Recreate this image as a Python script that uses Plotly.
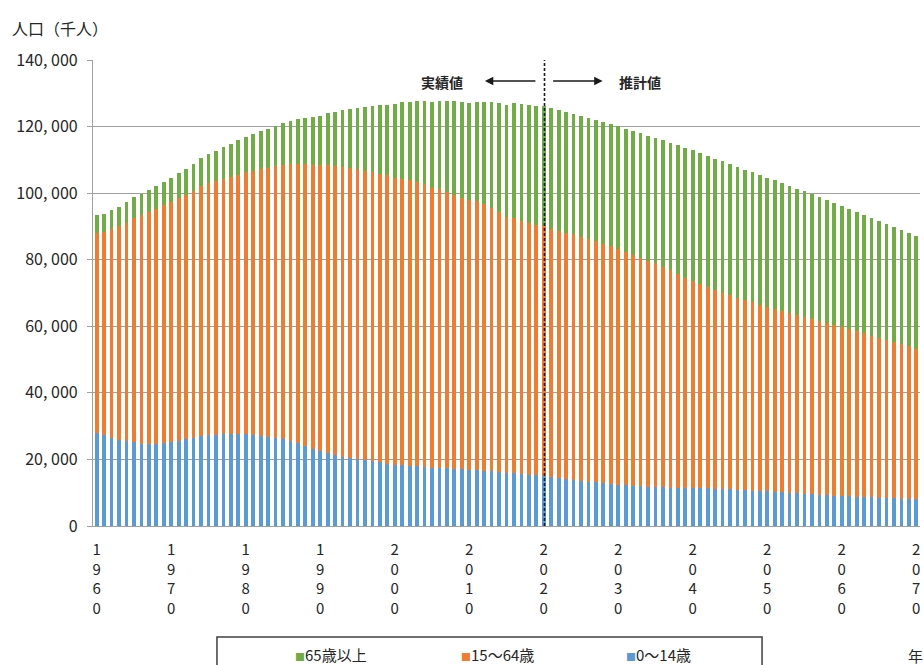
import plotly.graph_objects as go

years = list(range(1960, 2071))

# 0～14歳 (thousands)
age_0_14 = [
    28067, 27220, 26500, 25900, 25400, 25166, 24700, 24600, 24700, 24900,
    25153, 25500, 26000, 26500, 27000, 27221, 27400, 27500, 27600, 27600,
    27507, 27300, 27000, 26700, 26400, 26033, 25400, 24800, 24100, 23200,
    22486, 21900, 21400, 20800, 20400, 20014, 19700, 19400, 19100, 18700,
    18472, 18300, 18100, 17900, 17700, 17521, 17400, 17300, 17200, 17000,
    16803, 16700, 16500, 16400, 16200, 15887, 15800, 15600, 15400, 15200,
    15032, 14780, 14500, 14200, 13900, 13633, 13350, 13100, 12850, 12600,
    12397, 12200, 12050, 11920, 11800, 11691, 11620, 11560, 11510, 11460,
    11419, 11350, 11280, 11200, 11110, 11027, 10900, 10780, 10650, 10520,
    10406, 10250, 10100, 9950, 9800, 9659, 9530, 9400, 9270, 9140,
    9012, 8910, 8810, 8710, 8600, 8501, 8400, 8290, 8190, 8080,
    7975,
]

# 15～64歳 (thousands)
age_15_64 = [
    60002, 61100, 62600, 64100, 65700, 67444, 68600, 69700, 70600, 71400,
    72119, 72900, 73500, 74200, 75000, 75807, 76200, 76800, 77300, 78000,
    78835, 79500, 80200, 80900, 81700, 82506, 83400, 84100, 84700, 85400,
    85904, 86600, 86900, 87200, 87200, 87165, 87100, 86900, 86800, 86700,
    86220, 86100, 85700, 85400, 85100, 84092, 83700, 83000, 82300, 81500,
    81032, 80800, 80200, 79000, 78000, 77000, 76600, 76000, 75500, 75100,
    75088, 74510, 74160, 73970, 73700, 73101, 72800, 72420, 72000, 71420,
    70757, 70100, 69400, 68680, 67940, 67216, 66300, 65360, 64280, 63190,
    62133, 61270, 60490, 59740, 59020, 58323, 57730, 57060, 56510, 55970,
    55402, 54870, 54430, 54000, 53480, 53070, 52580, 52200, 51710, 51220,
    50781, 50210, 49670, 49150, 48630, 48093, 47570, 46950, 46410, 45890,
    45350,
]

# 65歳以上 (thousands)
age_65_plus = [
    5350, 5500, 5700, 5900, 6100, 6236, 6400, 6600, 6800, 7100,
    7393, 7600, 7900, 8200, 8500, 8865, 9200, 9600, 9900, 10300,
    10647, 11000, 11400, 11700, 12100, 12468, 12900, 13400, 13900, 14300,
    14895, 15600, 16200, 16900, 17600, 18261, 19000, 19800, 20500, 21200,
    22005, 22900, 23600, 24300, 24900, 25672, 26600, 27500, 28200, 29000,
    29246, 29800, 30800, 31900, 33000, 33465, 34600, 35200, 35600, 35900,
    36027, 36210, 36240, 36230, 36300, 36529, 36550, 36580, 36650, 36780,
    36962, 37100, 37250, 37400, 37560, 37732, 37980, 38280, 38610, 38950,
    39285, 39380, 39430, 39460, 39470, 39451, 39370, 39260, 39140, 39010,
    38878, 38680, 38470, 38250, 38020, 37779, 37490, 37200, 36920, 36640,
    36354, 36080, 35820, 35540, 35270, 34993, 34730, 34460, 34200, 33930,
    33671,
]

x_tick_vals = list(range(1960, 2071, 10))
x_tick_text = ["<br>".join(str(y)) for y in x_tick_vals]
y_tick_vals = [0, 20000, 40000, 60000, 80000, 100000, 120000, 140000]
y_tick_text = ["0", "20, 000", "40, 000", "60, 000", "80, 000", "100, 000", "120, 000", "140, 000"]

series_names = ["0～14歳", "15～64歳", "65歳以上"]
series_colors = ["#5B9BD5", "#ED7D31", "#70AD47"]
boundary_year = 2020.1

FONT = "Noto Sans CJK JP"
TXT = "#262626"

fig = go.Figure()
for name, vals, col in zip(series_names, [age_0_14, age_15_64, age_65_plus], series_colors):
    fig.add_trace(go.Bar(
        x=years, y=vals, name=name, width=0.5,
        marker=dict(color=col, line=dict(width=0)),
        showlegend=False,
    ))

fig.update_layout(
    barmode="stack",
    width=924, height=665,
    margin=dict(l=93, r=4, t=60, b=139),
    paper_bgcolor="white", plot_bgcolor="white",
    font=dict(family=FONT, color=TXT, size=15),
    xaxis=dict(
        range=[1959.5, 2070.5],
        tickmode="array", tickvals=x_tick_vals, ticktext=x_tick_text,
        showgrid=False, zeroline=False,
        showline=True, linecolor="#A0A0A0", linewidth=1,
        ticks="", tickfont=dict(size=15, color=TXT),
        ticklabelstandoff=10,
    ),
    yaxis=dict(
        range=[0, 140000],
        tickmode="array", tickvals=y_tick_vals, ticktext=y_tick_text,
        showgrid=True, gridcolor="#A0A0A0", gridwidth=1.3,
        zeroline=False,
        showline=True, linecolor="#A0A0A0", linewidth=1.3,
        ticks="outside", ticklen=5, tickcolor="#A0A0A0", tickwidth=1.3,
        ticklabelstandoff=6,
        tickfont=dict(size=16, color=TXT),
    ),
)

# boundary line between actual and projected values
fig.add_shape(type="line", xref="x", yref="paper", x0=boundary_year, x1=boundary_year,
              y0=0, y1=1, line=dict(color="#1a1a1a", width=1.6, dash="3px,2px"))

# arrows
fig.add_annotation(x=2012.1, y=133700, xref="x", yref="y", text="", showarrow=True,
                   ax=52, ay=0, arrowhead=2, arrowsize=1.2, arrowwidth=1.4, arrowcolor="#1a1a1a")
fig.add_annotation(x=2027.9, y=133700, xref="x", yref="y", text="", showarrow=True,
                   ax=-51, ay=0, arrowhead=2, arrowsize=1.2, arrowwidth=1.4, arrowcolor="#1a1a1a")
fig.add_annotation(x=2006.4, y=133400, xref="x", yref="y", text="<b>実績値</b>", showarrow=False,
                   font=dict(size=14, color=TXT))
fig.add_annotation(x=2032.9, y=133400, xref="x", yref="y", text="<b>推計値</b>", showarrow=False,
                   font=dict(size=14, color=TXT))

# axis titles
fig.add_annotation(x=-0.1004, y=1.069, xref="paper", yref="paper", text="人口（千人）",
                   showarrow=False, xanchor="left", yanchor="middle", font=dict(size=16, color=TXT))
fig.add_annotation(x=0.995, y=-0.278, xref="paper", yref="paper", text="年",
                   showarrow=False, xanchor="center", yanchor="middle", font=dict(size=15, color=TXT))

# legend box (custom)
fig.add_shape(type="rect", xref="paper", yref="paper", x0=0.1499, x1=0.809, y0=-0.33, y1=-0.2384,
              line=dict(color="#404040", width=1.5), fillcolor="white", layer="above")
legend_items = [("65歳以上", "#70AD47", 0.288), ("15～64歳", "#ED7D31", 0.489), ("0～14歳", "#5B9BD5", 0.684)]
for label, col, xp in legend_items:
    fig.add_annotation(x=xp, y=-0.2768, xref="paper", yref="paper",
                       text=f'<span style="color:{col};font-size:10px">■</span>{label}',
                       showarrow=False, xanchor="center", yanchor="middle",
                       font=dict(size=15, color=TXT))

fig.write_html("out.html", config={"displayModeBar": False},
               post_script="document.body.style.margin='0';")
